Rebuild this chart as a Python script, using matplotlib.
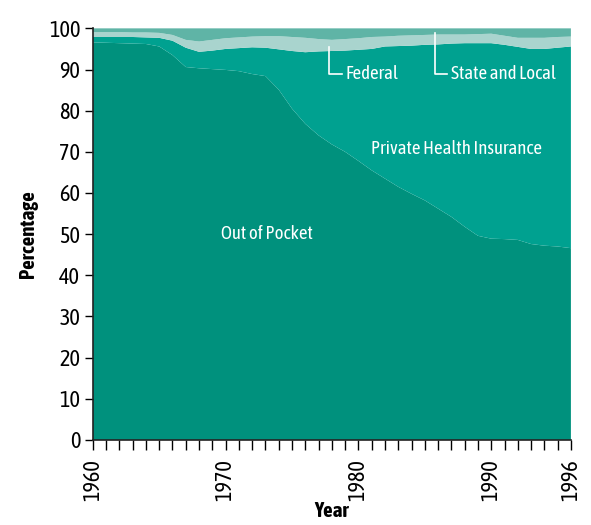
"""Dental spending by source of funds, 1960-1996, as a stacked area chart."""

import matplotlib
matplotlib.use("Agg")
import matplotlib.pyplot as plt
from matplotlib import font_manager
import numpy as np

# Prefer a condensed face that also comes in bold
fonts = font_manager.fontManager.ttflist
narrow = sorted({f.name for f in fonts
                 if ("Narrow" in f.name or "Condensed" in f.name
                     or f.stretch in ("condensed", "semi-condensed"))})
bold_narrow = [n for n in narrow
               if any(f.name == n and f.weight in (700, "bold") for f in fonts)]
FONT = (bold_narrow[:1] or narrow[:1]) + ["DejaVu Sans"]
plt.rcParams["font.family"] = FONT
plt.rcParams["font.stretch"] = "condensed"

years = list(range(1960, 1997))

# Share of spending (percent) by payer, one value per year
out_of_pocket = [96.6, 96.5, 96.4, 96.3, 96.2, 95.6, 93.5, 90.6, 90.3, 90.1,
                 89.9, 89.6, 88.9, 88.4, 85.1, 80.5, 76.8, 74.0, 71.8, 70.0,
                 67.8, 65.5, 63.5, 61.5, 59.8, 58.2, 56.2, 54.2, 51.8, 49.6,
                 48.9, 48.8, 48.6, 47.6, 47.2, 47.0, 46.6]
private_insurance = [1.3, 1.4, 1.5, 1.6, 1.6, 2.1, 3.5, 4.7, 4.0, 4.5,
                     5.1, 5.6, 6.5, 6.9, 9.8, 14.0, 17.4, 20.4, 22.7, 24.6,
                     27.0, 29.5, 32.1, 34.2, 36.0, 37.8, 39.9, 42.1, 44.6, 46.8,
                     47.5, 47.2, 46.9, 47.4, 47.8, 48.3, 49.0]
federal = [1.2, 1.2, 1.2, 1.1, 1.2, 1.2, 1.4, 1.9, 2.5, 2.6,
           2.6, 2.6, 2.6, 2.8, 3.2, 3.4, 3.5, 3.0, 2.7, 2.8,
           2.8, 2.9, 2.4, 2.5, 2.5, 2.4, 2.4, 2.2, 2.1, 2.2,
           2.3, 2.2, 2.2, 2.7, 2.7, 2.6, 2.4]
state_local = [0.9, 0.9, 0.9, 1.0, 1.0, 1.1, 1.6, 2.8, 3.2, 2.8,
               2.4, 2.2, 2.0, 1.9, 1.9, 2.1, 2.3, 2.6, 2.8, 2.6,
               2.4, 2.1, 2.0, 1.8, 1.7, 1.6, 1.5, 1.5, 1.5, 1.4,
               1.3, 1.8, 2.3, 2.3, 2.3, 2.1, 2.0]

year_labels = [1960, 1970, 1980, 1990, 1996]
colors = ["#00917d", "#00a190", "#a9d4ce", "#5fb4a6"]

fig = plt.figure(figsize=(5.91, 5.25), dpi=100)
ax = fig.add_axes([0.157, 0.162, 0.809, 0.784])

ax.stackplot(years, out_of_pocket, private_insurance, federal, state_local,
             colors=colors, linewidth=0)

ax.set_xlim(1960, 1996)
ax.set_ylim(0, 100)
ax.set_yticks(np.arange(0, 101, 10))
ax.set_xticks(year_labels)
ax.set_xticks(years, minor=True)
ax.tick_params(axis="y", direction="out", length=6, width=1, labelsize=16, pad=3)
ax.tick_params(axis="x", which="both", direction="out", length=7, width=1,
               labelsize=16, labelrotation=90, pad=7)
for spine in ("top", "right"):
    ax.spines[spine].set_visible(False)
for spine in ("left", "bottom"):
    ax.spines[spine].set_linewidth(1.2)
    ax.spines[spine].set_color("#222222")

ax.set_ylabel("Percentage", fontsize=15, fontweight="bold", labelpad=8)
ax.set_xlabel("Year", fontsize=15, fontweight="bold", labelpad=0)

# Labels inside the areas
ax.text(1973.1, 50.1, "Out of Pocket", color="white", fontsize=13.5,
        ha="center", va="center")
ax.text(1987.4, 70.7, "Private Health Insurance", color="white", fontsize=13.5,
        ha="center", va="center")

# Leader lines for the thin bands at the top
ax.plot([1977.8, 1977.8, 1978.75], [95.5, 89.0, 89.0], color="white", lw=1.2)
ax.text(1979.05, 89.0, "Federal", color="white", fontsize=13.5, va="center")
ax.plot([1985.8, 1985.8, 1986.65], [98.9, 89.0, 89.0], color="white", lw=1.2)
ax.text(1986.95, 89.0, "State and Local", color="white", fontsize=13.5, va="center")

fig.savefig("out.png", dpi=100)
plt.close(fig)
